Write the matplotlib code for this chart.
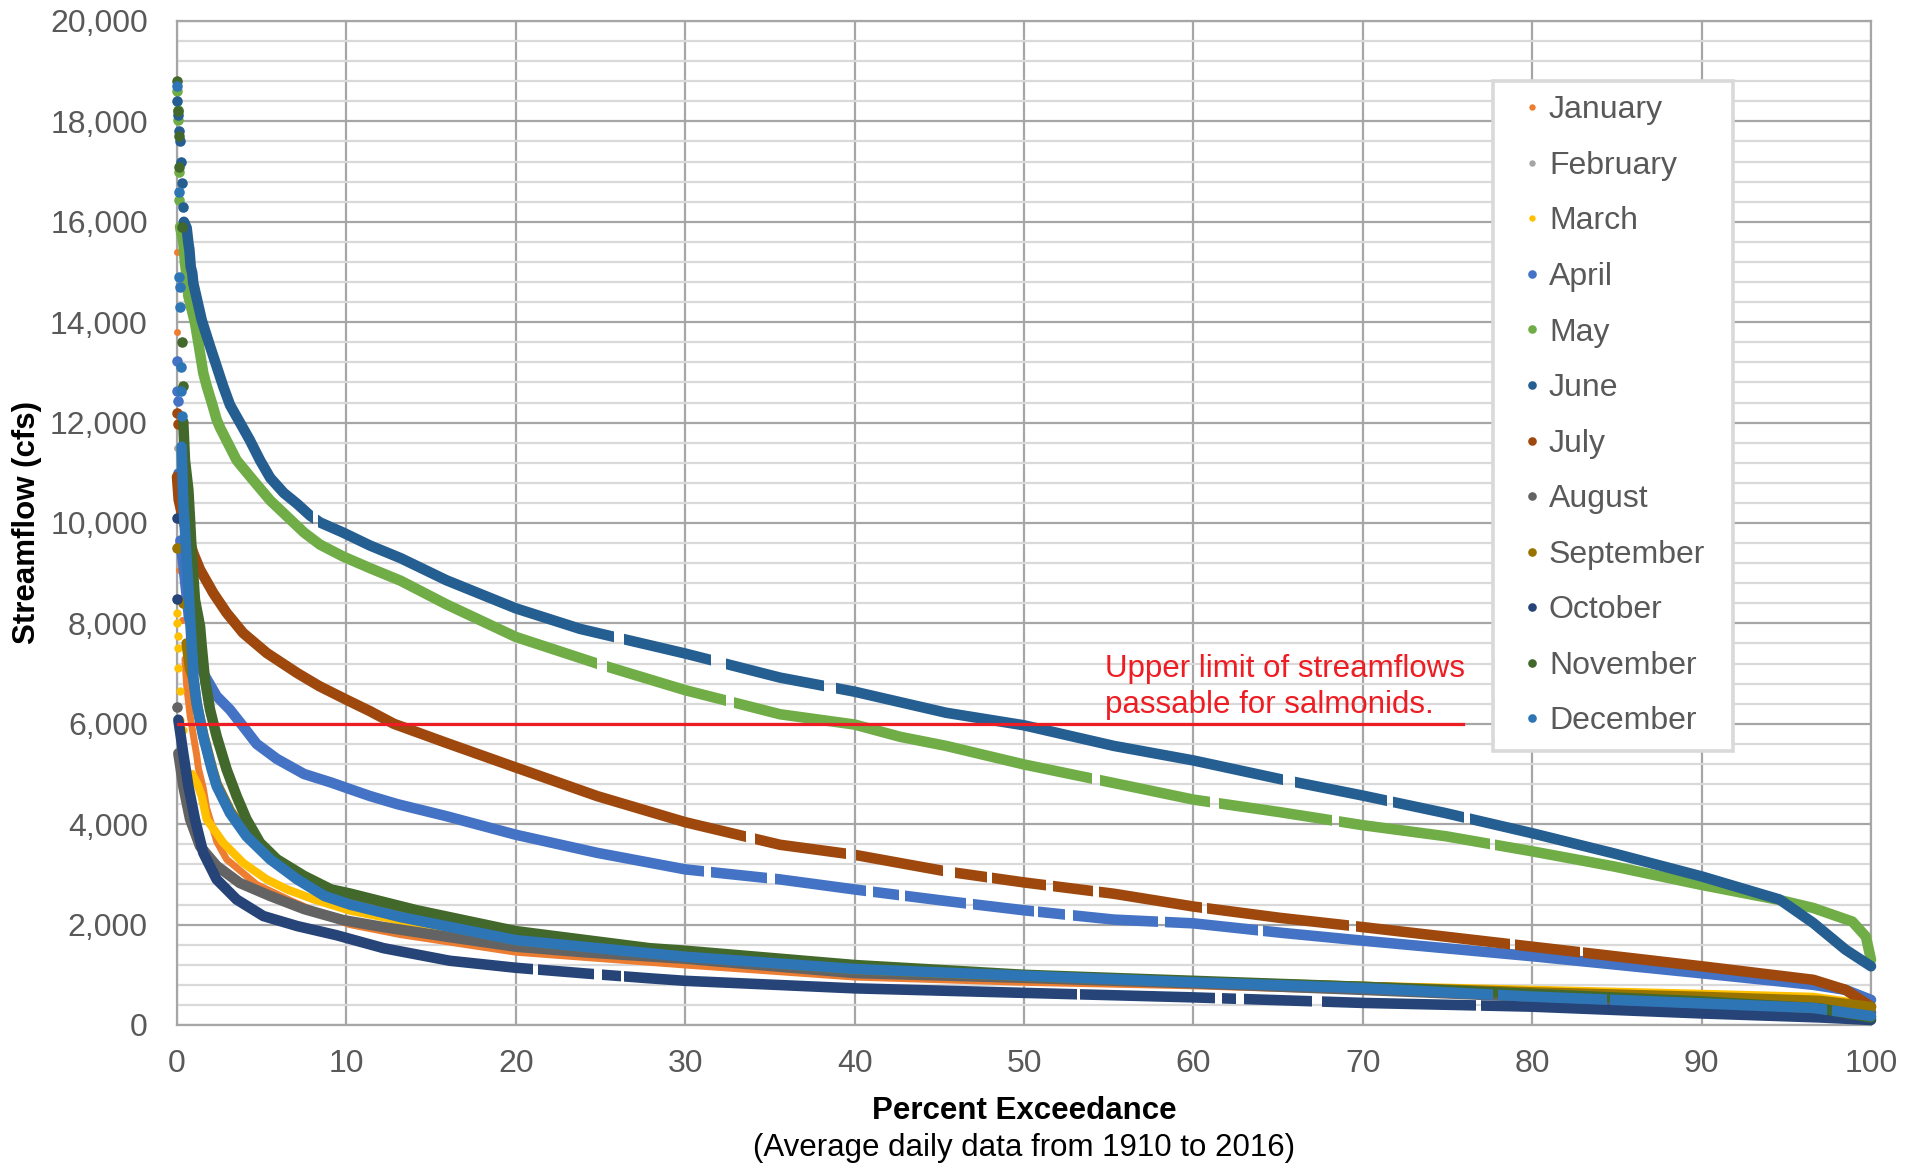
import matplotlib
matplotlib.use("Agg")
import matplotlib.pyplot as plt
from matplotlib.ticker import MultipleLocator, FuncFormatter
from matplotlib.lines import Line2D
from matplotlib.path import Path

plt.rcParams['font.family'] = ['Liberation Sans', 'DejaVu Sans']

# ---------------- data (percent exceedance, streamflow cfs) ----------------
months = ["January", "February", "March", "April", "May", "June", "July",
          "August", "September", "October", "November", "December"]
colors = ["#ED7D31", "#A5A5A5", "#FFC000", "#4472C4", "#70AD47", "#255E91",
          "#9E480E", "#636363", "#997300", "#264478", "#43682B", "#2E75B6"]

jan_head_pct = [0.0, 0.02, 0.05, 0.1, 0.15, 0.27]
jan_head_cfs = [15400, 13800, 10370, 9070, 8500, 8070]
jan_pct = [0.47, 0.57, 0.77, 0.96, 1.16, 1.26, 1.55, 1.75, 2.35, 2.93, 4.7, 6.7, 8.4, 10.2, 13.2, 20, 30, 40, 50, 60, 70, 80, 90, 97, 100]
jan_cfs = [7290, 6760, 6170, 5780, 5380, 5120, 4720, 4320, 3650, 3300, 2800, 2480, 2230, 2000, 1800, 1450, 1195, 955, 850, 780, 680, 560, 460, 380, 300]

feb_head_pct = [0.02, 0.1]
feb_head_cfs = [11500, 10200]
feb_pct = [0.57, 0.77, 0.96, 1.16, 1.55, 2.05, 2.34, 3.13, 4.1, 5.5, 7.1, 8.7, 10.2, 13.2, 20, 30, 40, 50, 60, 70, 80, 90, 97, 100]
feb_cfs = [8900, 7700, 7000, 6450, 5800, 5150, 4830, 4290, 3830, 3370, 2960, 2630, 2450, 2170, 1700, 1380, 1120, 980, 860, 750, 620, 500, 400, 260]

mar_head_pct = [0.0, 0.0, 0.05, 0.05, 0.08, 0.18, 0.2, 0.35]
mar_head_cfs = [8200, 8000, 7740, 7510, 7110, 6650, 6080, 5870]
mar_pct = [0.9, 1.2, 1.46, 1.75, 2.73, 3.9, 5.3, 6.5, 8.1, 10.2, 13.2, 20, 30, 40, 50, 60, 70, 80, 90, 96.6, 100]
mar_cfs = [5000, 4800, 4560, 4100, 3630, 3230, 2900, 2700, 2500, 2280, 2080, 1620, 1300, 1080, 960, 870, 780, 700, 620, 560, 400]

apr_head_pct = [0.02, 0.02, 0.05, 0.05, 0.1]
apr_head_cfs = [13220, 12630, 12430, 11000, 10800]
apr_pct = [0.2, 0.4, 0.7, 0.87, 1.16, 1.55, 2.34, 3.13, 3.9, 4.7, 5.9, 7.5, 9.1, 10.2, 11.4, 13.0, 15.9, 20, 24.8, 30, 35.6, 40, 45.4, 50, 55.3, 60, 65.1, 70, 80, 90, 96.6, 98.5, 100]
apr_cfs = [9650, 9090, 8130, 7940, 7400, 7010, 6550, 6280, 5950, 5600, 5300, 5000, 4830, 4700, 4560, 4400, 4160, 3790, 3430, 3100, 2900, 2700, 2470, 2285, 2100, 2025, 1840, 1680, 1370, 1030, 800, 700, 500]

may_head_pct = [0.02, 0.08, 0.08, 0.12, 0.14]
may_head_cfs = [18600, 18230, 18030, 17000, 16440]
may_pct = [0.18, 0.37, 0.47, 0.57, 0.67, 0.87, 1.06, 1.26, 1.55, 1.75, 2.05, 2.34, 2.54, 3.52, 4.5, 5.5, 6.5, 7.5, 8.44, 9.82, 11.4, 13.2, 15.9, 20, 24.8, 30, 35.6, 40, 42.7, 45.4, 50, 55.3, 60, 65.1, 70, 74.9, 80, 84.8, 90, 94.6, 96.6, 98.9, 99.7, 100]
may_cfs = [15900, 15600, 15180, 14920, 14520, 14250, 13990, 13590, 12990, 12730, 12400, 12060, 11900, 11250, 10850, 10450, 10130, 9810, 9570, 9330, 9100, 8850, 8380, 7730, 7200, 6670, 6190, 5985, 5740, 5560, 5190, 4820, 4490, 4240, 3980, 3760, 3460, 3160, 2790, 2490, 2330, 2060, 1760, 1300]

jun_head_pct = [0.02, 0.08, 0.12, 0.18, 0.22, 0.28, 0.37]
jun_head_cfs = [18400, 18130, 17800, 17600, 17200, 16770, 16300]
jun_pct = [0.41, 0.57, 0.67, 0.73, 0.81, 0.9, 0.96, 1.46, 1.95, 2.34, 2.73, 3.13, 3.8, 4.3, 4.9, 5.5, 6.3, 7.1, 7.85, 8.45, 9.8, 11.4, 13.2, 15.9, 20, 23.8, 30, 35.6, 40, 45.4, 50, 55.3, 60, 65.1, 70, 74.9, 80, 84.8, 90, 92.6, 94.6, 96.6, 98.5, 100]
jun_cfs = [16000, 15880, 15580, 15450, 15100, 14980, 14780, 14040, 13520, 13120, 12720, 12350, 11950, 11650, 11250, 10900, 10600, 10380, 10150, 10010, 9810, 9550, 9300, 8860, 8300, 7890, 7400, 6920, 6640, 6220, 5970, 5560, 5270, 4900, 4570, 4220, 3820, 3420, 2960, 2700, 2500, 2030, 1500, 1170]

jul_head_pct = [0.02, 0.04]
jul_head_cfs = [12200, 11970]
jul_pct = [0.0, 0.1, 0.37, 0.96, 1.36, 2.15, 2.93, 3.9, 5.3, 7.1, 8.4, 10.0, 11.4, 12.8, 15.9, 20, 24.8, 30, 35.6, 40, 42.7, 45.4, 50, 55.3, 60, 65.1, 70, 80, 90, 96.6, 98.5, 100]
jul_cfs = [10920, 10460, 10060, 9400, 9070, 8600, 8210, 7810, 7410, 7010, 6750, 6480, 6250, 6000, 5620, 5130, 4560, 4040, 3590, 3390, 3225, 3060, 2840, 2615, 2360, 2135, 1950, 1560, 1170, 900, 700, 365]

aug_head_pct = [0.0]
aug_head_cfs = [6340]
aug_pct = [0.08, 0.37, 0.77, 1.36, 2.34, 3.7, 5.5, 7.5, 9.8, 12.2, 16.1, 20, 24, 30, 40, 50, 60, 70, 80, 90, 97, 100]
aug_cfs = [5410, 4760, 4100, 3560, 3170, 2830, 2570, 2310, 2090, 1950, 1750, 1560, 1450, 1320, 1035, 940, 830, 700, 560, 420, 330, 250]

sep_head_pct = [0.02, 0.37]
sep_head_cfs = [9500, 8400]
sep_pct = [0.57, 0.77, 0.96, 1.16, 1.55, 2.05, 2.34, 3.13, 4.1, 5.5, 7.1, 8.7, 10.2, 13.2, 20, 30, 40, 50, 60, 70, 80, 90, 97, 100]
sep_cfs = [7600, 7100, 6900, 6400, 5780, 5130, 4800, 4260, 3800, 3340, 2940, 2610, 2430, 2160, 1690, 1370, 1110, 975, 860, 760, 650, 560, 480, 360]

oct_head_pct = [0.02, 0.02]
oct_head_cfs = [10090, 8490]
oct_pct = [0.08, 0.37, 0.67, 1.06, 1.55, 2.34, 3.52, 5.1, 7.1, 9.4, 12.2, 16.1, 20, 24, 27.9, 30, 40, 50, 60, 70, 80, 90, 97, 100]
oct_cfs = [6080, 5410, 4760, 4100, 3430, 2900, 2500, 2170, 1970, 1790, 1530, 1280, 1140, 1030, 930, 880, 730, 640, 550, 440, 365, 230, 150, 100]

nov_head_pct = [0.02, 0.05, 0.1, 0.14, 0.27, 0.27, 0.35]
nov_head_cfs = [18800, 18200, 17700, 17100, 15900, 13600, 12730]
nov_pct = [0.37, 0.47, 0.67, 0.77, 0.87, 1.06, 1.36, 1.46, 1.65, 1.95, 2.34, 2.93, 3.52, 4.1, 4.9, 5.9, 7.5, 9.1, 10.2, 14.1, 20, 27.9, 30, 40, 50, 60, 70, 80, 90, 97, 100]
nov_cfs = [12015, 11250, 10660, 10060, 9400, 8470, 7940, 7540, 6880, 6280, 5750, 5090, 4560, 4100, 3630, 3300, 2970, 2700, 2620, 2290, 1870, 1530, 1480, 1195, 1000, 880, 760, 620, 470, 330, 150]

dec_head_pct = [0.02, 0.1, 0.14, 0.16, 0.2, 0.24, 0.22, 0.3]
dec_head_cfs = [18700, 16600, 14900, 14700, 14300, 13100, 12630, 12130]
dec_pct = [0.27, 0.37, 0.47, 0.57, 0.67, 0.77, 0.87, 0.96, 1.16, 1.55, 2.05, 2.34, 3.13, 4.1, 5.5, 7.1, 8.7, 10.2, 13.2, 20, 30, 40, 50, 60, 70, 80, 90, 96.6, 100]
dec_cfs = [11520, 10390, 9860, 9260, 8730, 8130, 7540, 6940, 6410, 5750, 5090, 4760, 4220, 3760, 3300, 2900, 2570, 2400, 2150, 1690, 1360, 1115, 980, 850, 735, 565, 430, 340, 180]

# ranges of percent exceedance with no plotted days (visible breaks in the dotted bands)
apr_gaps = [(31.1, 31.5), (34.8, 35.3), (40.7, 41.1), (42.6, 43.0), (46.6, 47.0), (50.6, 50.8),
            (52.4, 52.9), (57.9, 58.3), (63.8, 64.1)]
may_gaps = [(24.8, 25.4), (32.4, 32.9), (54.0, 54.5), (61.0, 61.5), (68.2, 68.6), (77.5, 77.8)]
jun_gaps = [(8.05, 8.35), (25.8, 26.4), (31.5, 32.4), (38.2, 38.9), (65.3, 66.0), (71.4, 71.8), (76.0, 76.3)]
jul_gaps = [(33.6, 34.1), (39.5, 40.1), (45.2, 45.9), (47.8, 48.1), (51.3, 51.7), (54.1, 54.4),
            (60.5, 60.8), (69.2, 69.6), (78.7, 79.0), (82.8, 83.0)]
oct_gaps = [(21.0, 21.3), (24.6, 25.1), (26.2, 26.4), (53.1, 53.3), (61.3, 61.7), (62.5, 63.0),
            (67.0, 67.6), (76.7, 77.0)]
dec_gaps = [(77.7, 78.0), (84.4, 84.6), (97.4, 97.7)]

heads_pct = [jan_head_pct, feb_head_pct, mar_head_pct, apr_head_pct, may_head_pct, jun_head_pct,
             jul_head_pct, aug_head_pct, sep_head_pct, oct_head_pct, nov_head_pct, dec_head_pct]
heads_cfs = [jan_head_cfs, feb_head_cfs, mar_head_cfs, apr_head_cfs, may_head_cfs, jun_head_cfs,
             jul_head_cfs, aug_head_cfs, sep_head_cfs, oct_head_cfs, nov_head_cfs, dec_head_cfs]
bodies_pct = [jan_pct, feb_pct, mar_pct, apr_pct, may_pct, jun_pct,
              jul_pct, aug_pct, sep_pct, oct_pct, nov_pct, dec_pct]
bodies_cfs = [jan_cfs, feb_cfs, mar_cfs, apr_cfs, may_cfs, jun_cfs,
              jul_cfs, aug_cfs, sep_cfs, oct_cfs, nov_cfs, dec_cfs]
gaps = [[], [], [], apr_gaps, may_gaps, jun_gaps, jul_gaps, [], [], oct_gaps, [], dec_gaps]

passable_limit = 6000
limit_end_pct = 75.9
x_ticks = [0, 10, 20, 30, 40, 50, 60, 70, 80, 90, 100]

# ---------------- figure ----------------
W, H = 1919, 1167
fig = plt.figure(figsize=(W / 100, H / 100), dpi=100)
L, R, T, B = 177, 1871, 21, 1025
ax = fig.add_axes([L / W, 1 - B / H, (R - L) / W, (B - T) / H])

ax.set_xlim(0, 100)
ax.set_ylim(0, 20000)
ax.set_xticks(x_ticks)
ax.yaxis.set_major_locator(MultipleLocator(2000))
ax.yaxis.set_minor_locator(MultipleLocator(400))
ax.yaxis.set_major_formatter(FuncFormatter(lambda v, p: f"{int(v):,}"))

ax.grid(which='minor', axis='y', color='#d9d9d9', lw=1.6, zorder=0)
ax.grid(which='major', axis='both', color='#a6a6a6', lw=1.6, zorder=0)
ax.set_axisbelow(True)
for s in ax.spines.values():
    s.set_color('#a6a6a6')
    s.set_linewidth(1.6)

ax.tick_params(which='both', length=0, labelsize=23, labelcolor='#595959')
ax.tick_params(axis='y', pad=21)
ax.tick_params(axis='x', pad=17)


def keep_path(gap_list):
    """Clip path (data coords) that hides the given x-ranges."""
    edges = [-3.0]
    for a, b in gap_list:
        edges += [a, b]
    edges.append(103.0)
    rects = []
    for a, b in zip(edges[0::2], edges[1::2]):
        rects.append(Path([(a, -3000), (b, -3000), (b, 23000), (a, 23000), (a, -3000)], closed=True))
    return Path.make_compound_path(*rects)


widths = [5.0, 5.0, 6.0, 7.6, 7.6, 7.6, 7.6, 7.6, 7.6, 7.6, 7.6, 7.6]
for i in range(12):
    c = colors[i]
    lw = widths[i]
    line, = ax.plot(bodies_pct[i], bodies_cfs[i], color=c, lw=lw, solid_capstyle='round',
                    solid_joinstyle='round', zorder=3 + i)
    line.set_clip_box(None)
    line.set_clip_path(keep_path(gaps[i]), ax.transData)
    ax.plot(heads_pct[i], heads_cfs[i], ls='none', marker='o', ms=lw, mew=0,
            color=c, zorder=3 + i, clip_on=False)

# passable limit line and annotation
ax.plot([0, limit_end_pct], [passable_limit, passable_limit], color='#EE1D23', lw=2.3, zorder=20)
ax.text(54.8, 6930, "Upper limit of streamflows", color='#EE1D23', fontsize=22.5,
        va='baseline', ha='left', zorder=21)
ax.text(54.8, 6215, "passable for salmonids.", color='#EE1D23', fontsize=22.5,
        va='baseline', ha='left', zorder=21)

# legend
small = {0, 1, 2}
handles = [Line2D([], [], ls='none', marker='o', ms=(4.6 if i in small else 6.2), mew=0,
                  color=colors[i]) for i in range(12)]
leg_x0 = (1493 - L) / (R - L)
leg_w = (1733 - 1493) / (R - L)
leg_top = (B - 81) / (B - T)
leg = ax.legend(handles, months, loc='upper left', bbox_to_anchor=(leg_x0, leg_top - 0.7, leg_w, 0.7),
                mode='expand', fontsize=23, labelcolor='#595959', handlelength=1.55,
                handletextpad=-0.25, labelspacing=0.80, borderpad=0.45, borderaxespad=0,
                fancybox=False, framealpha=1, edgecolor='#d9d9d9')
leg.get_frame().set_linewidth(2.6)
leg.set_zorder(30)

# axis titles
fig.text(27 / W, 1 - 522 / H, "Streamflow (cfs)", rotation=90, ha='center', va='center',
         fontsize=22.5, fontweight='bold', color='black')
fig.text((L + R) / 2 / W, 1 - 1111 / H, "Percent Exceedance", ha='center', va='center',
         fontsize=22.5, fontweight='bold', color='black')
fig.text((L + R) / 2 / W, 1 - 1148 / H, "(Average daily data from 1910 to 2016)",
         ha='center', va='center', fontsize=22.5, color='black')

fig.savefig("out.png", dpi=100)
